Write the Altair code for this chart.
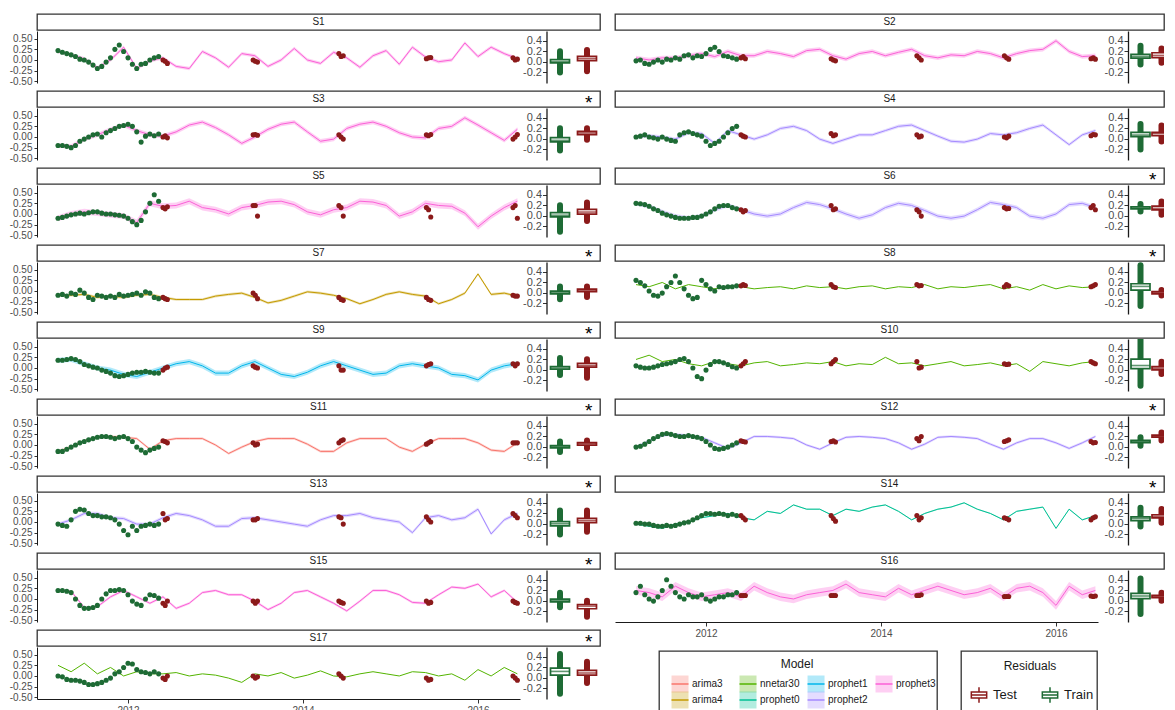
import altair as alt
import pandas as pd

# ---------------- data ----------------
SERIES = [f"S{i}" for i in range(1, 18)]
MODEL = ["prophet3", "prophet3", "prophet3", "prophet2", "prophet3", "prophet2", "arima4",
         "nnetar30", "prophet1", "nnetar30", "arima3", "prophet2", "prophet2", "prophet0",
         "prophet3", "prophet3", "nnetar30"]
STARRED = [False, False, True, False, False, True, True, True, True, False, True, True,
           True, True, True, False, True]
BAND = [0.04, 0.05, 0.05, 0.04, 0.07, 0.05, 0.03, 0.0, 0.06, 0.0, 0.03, 0.03, 0.04, 0.015,
        0.03, 0.1, 0.0]

MODEL_NAMES = ["arima3", "arima4", "nnetar30", "prophet0", "prophet1", "prophet2", "prophet3"]
MODEL_COLORS = ["#F8766D", "#C49A00", "#53B400", "#00C094", "#00B6EB", "#A58AFF", "#FB61D7"]
GROUPS = ["Train", "Test"]
GROUP_COLORS = ["#1E6B35", "#8B1A1A"]

LINE_T = [round(2011.2 + 0.15 * i, 3) for i in range(36)]
TRAIN_T = [round(2011.2 + 0.05 * k, 3) for k in range(24)]
TEST_CLUSTER_T = [2012.40, 2013.43, 2014.41, 2015.41, 2016.40]
TEST_T = [round(c + d, 3) for c in TEST_CLUSTER_T for d in (0.0, 0.025, 0.05)]

LINE_S1 = [0.20, 0.12, 0.03, -0.18, 0.0, 0.30, -0.20, -0.02, 0.05, -0.15, -0.20, 0.20, 0.05, -0.17, 0.15, 0.10, -0.15, 0.0, 0.27, 0.0, -0.08, 0.18, 0.05, -0.17, 0.10, 0.22, -0.10, 0.30, 0.07, -0.04, 0.0, 0.40, 0.08, 0.30, 0.15, 0.03]
TRAIN_S1 = [0.22, 0.18, 0.15, 0.12, 0.08, 0.02, 0.0, -0.05, -0.12, -0.2, -0.15, -0.05, 0.05, 0.25, 0.35, 0.2, 0.05, -0.1, -0.2, -0.1, -0.08, 0.0, 0.05, 0.08]
TEST_S1 = [0.0, -0.03, -0.08, 0.0, -0.03, -0.05, 0.15, 0.08, 0.1, 0.03, 0.05, 0.06, 0.05, 0.0, 0.02]

LINE_S2 = [0.05, 0.0, 0.05, 0.05, 0.1, 0.15, 0.08, 0.2, 0.1, 0.1, 0.2, 0.15, 0.08, 0.22, 0.25, 0.1, 0.02, 0.15, 0.2, 0.1, 0.18, 0.25, 0.1, 0.05, 0.12, 0.1, 0.2, 0.15, 0.05, 0.15, 0.22, 0.25, 0.45, 0.2, 0.08, 0.1]
TRAIN_S2 = [-0.02, 0.0, -0.08, -0.1, -0.05, 0.0, -0.05, 0.02, 0.0, 0.05, 0.02, 0.1, 0.12, 0.05, 0.1, 0.08, 0.15, 0.25, 0.3, 0.2, 0.1, 0.08, 0.05, 0.02]
TEST_S2 = [0.05, 0.08, 0.03, 0.03, 0.0, -0.02, 0.1, 0.05, 0.0, 0.1, 0.05, 0.02, 0.03, 0.05, 0.02]

LINE_S3 = [-0.2, -0.22, -0.05, 0.05, 0.18, 0.28, 0.15, 0.05, 0.02, 0.12, 0.28, 0.35, 0.22, 0.05, -0.15, 0.0, 0.18, 0.3, 0.35, 0.12, -0.1, -0.05, 0.2, 0.3, 0.35, 0.25, 0.1, 0.0, -0.02, 0.2, 0.25, 0.45, 0.28, 0.1, -0.08, 0.18]
TRAIN_S3 = [-0.2, -0.2, -0.22, -0.25, -0.2, -0.1, -0.05, 0.0, 0.05, 0.07, 0.0, 0.1, 0.15, 0.2, 0.25, 0.27, 0.3, 0.25, 0.12, -0.12, 0.02, 0.07, 0.03, 0.07]
TEST_S3 = [0.0, 0.03, -0.02, 0.05, 0.06, 0.04, 0.05, 0.0, -0.05, 0.05, 0.03, 0.06, -0.05, 0.0, 0.06]

LINE_S4 = [0.0, 0.03, 0.0, -0.05, 0.1, 0.08, -0.15, 0.15, 0.05, -0.05, 0.05, 0.2, 0.25, 0.15, -0.05, -0.15, -0.05, 0.05, 0.05, 0.15, 0.25, 0.28, 0.15, 0.02, -0.1, -0.12, -0.05, 0.08, 0.05, 0.1, 0.2, 0.28, 0.05, -0.18, 0.05, 0.15]
TRAIN_S4 = [0.0, 0.02, 0.05, 0.0, -0.02, -0.05, 0.0, -0.05, -0.08, -0.1, 0.05, 0.1, 0.12, 0.08, 0.05, 0.02, -0.1, -0.2, -0.15, -0.1, 0.0, 0.1, 0.2, 0.25]
TEST_S4 = [0.05, 0.02, 0.0, 0.08, 0.03, 0.05, 0.05, 0.0, 0.02, 0.0, -0.02, 0.02, 0.03, 0.06, 0.05]

LINE_S5 = [-0.1, 0.0, 0.05, 0.02, -0.02, -0.05, -0.2, 0.25, 0.18, 0.2, 0.3, 0.15, 0.1, 0.0, 0.15, 0.2, 0.28, 0.3, 0.22, 0.05, -0.02, 0.1, 0.15, 0.3, 0.28, 0.2, -0.05, 0.05, 0.25, 0.2, 0.18, 0.02, -0.3, -0.05, 0.15, 0.3]
TRAIN_S5 = [-0.1, -0.08, -0.05, -0.02, 0.0, 0.02, 0.0, 0.03, 0.05, 0.05, 0.02, 0.0, 0.0, -0.02, -0.03, -0.05, -0.1, -0.18, -0.25, -0.15, 0.05, 0.25, 0.45, 0.3]
TEST_S5 = [0.15, 0.12, 0.17, 0.2, 0.2, -0.05, 0.2, 0.15, -0.05, 0.15, 0.1, -0.07, 0.15, 0.2, -0.1]

LINE_S6 = [0.25, 0.18, 0.05, -0.05, -0.1, -0.05, 0.1, 0.2, 0.1, 0.0, -0.05, 0.0, 0.15, 0.27, 0.22, 0.12, 0.0, -0.1, -0.02, 0.15, 0.25, 0.2, 0.08, -0.05, -0.1, -0.05, 0.1, 0.27, 0.22, 0.15, -0.05, -0.1, 0.0, 0.22, 0.25, 0.15]
TRAIN_S6 = [0.25, 0.24, 0.22, 0.18, 0.12, 0.08, 0.02, -0.02, -0.05, -0.08, -0.1, -0.1, -0.1, -0.08, -0.08, -0.05, 0.0, 0.05, 0.12, 0.18, 0.2, 0.2, 0.15, 0.12]
TEST_S6 = [0.1, 0.05, 0.08, 0.2, 0.1, 0.12, 0.1, 0.05, -0.05, 0.15, 0.12, 0.13, 0.15, 0.2, 0.1]

LINE_S7 = [-0.1, -0.1, -0.08, -0.15, -0.12, -0.15, -0.1, -0.08, -0.15, -0.2, -0.2, -0.2, -0.12, -0.08, -0.05, -0.15, -0.28, -0.22, -0.12, -0.02, -0.05, -0.1, -0.18, -0.3, -0.2, -0.08, -0.02, -0.08, -0.12, -0.3, -0.2, -0.05, 0.4, -0.08, -0.05, -0.12]
TRAIN_S7 = [-0.1, -0.08, -0.12, -0.05, -0.08, 0.02, -0.05, -0.15, -0.2, -0.1, -0.12, -0.15, -0.12, -0.15, -0.08, -0.12, -0.1, -0.08, -0.05, -0.1, -0.02, -0.05, -0.15, -0.18]
TEST_S7 = [-0.15, -0.18, -0.2, -0.05, -0.1, -0.18, -0.15, -0.2, -0.22, -0.15, -0.2, -0.22, -0.1, -0.12, -0.12]

LINE_S8 = [0.15, 0.1, 0.2, 0.05, 0.15, 0.1, 0.05, 0.12, 0.1, 0.05, 0.08, 0.1, 0.05, 0.12, 0.08, 0.1, 0.05, 0.1, 0.12, 0.05, 0.1, 0.08, 0.15, 0.05, 0.1, 0.08, 0.12, 0.15, 0.05, 0.1, 0.02, 0.15, 0.05, 0.12, 0.08, 0.1]
TRAIN_S8 = [0.25, 0.2, 0.12, 0.0, -0.1, -0.12, -0.05, 0.1, 0.2, 0.35, 0.2, 0.05, -0.1, -0.18, -0.15, 0.25, 0.15, 0.05, 0.0, 0.1, 0.08, 0.1, 0.1, 0.12]
TEST_S8 = [0.12, 0.15, 0.13, 0.15, 0.1, 0.08, 0.15, 0.12, 0.13, 0.1, 0.15, 0.12, 0.1, 0.12, 0.15]

LINE_S9 = [0.18, 0.2, 0.1, 0.0, -0.05, -0.15, -0.2, -0.1, 0.0, 0.1, 0.15, 0.05, -0.12, -0.12, 0.05, 0.15, 0.0, -0.15, -0.2, -0.1, 0.05, 0.15, 0.05, -0.05, -0.15, -0.12, 0.05, 0.1, 0.05, 0.0, -0.15, -0.18, -0.28, -0.05, 0.05, 0.1]
TRAIN_S9 = [0.18, 0.18, 0.2, 0.22, 0.2, 0.15, 0.08, 0.05, 0.02, 0.0, -0.05, -0.08, -0.12, -0.18, -0.2, -0.18, -0.15, -0.12, -0.1, -0.1, -0.08, -0.1, -0.12, -0.12]
TEST_S9 = [-0.05, 0.0, 0.02, 0.05, 0.02, 0.0, 0.05, -0.05, -0.05, 0.05, 0.08, 0.1, 0.1, 0.05, 0.1]

LINE_S10 = [0.2, 0.3, 0.15, 0.2, 0.1, 0.05, 0.15, 0.1, 0.05, 0.12, 0.15, 0.05, 0.08, 0.12, 0.1, 0.15, 0.05, 0.1, 0.08, 0.25, 0.1, 0.12, 0.05, 0.1, 0.15, 0.05, 0.08, 0.12, 0.05, 0.1, -0.08, 0.15, 0.1, 0.05, 0.12, 0.15]
TRAIN_S10 = [0.05, 0.02, 0.0, 0.0, 0.02, 0.05, 0.08, 0.1, 0.12, 0.15, 0.2, 0.22, 0.15, 0.0, -0.2, -0.25, -0.05, 0.08, 0.15, 0.15, 0.12, 0.08, 0.03, 0.0]
TEST_S10 = [0.05, 0.1, 0.15, 0.1, 0.15, 0.2, 0.15, 0.0, 0.02, 0.1, 0.08, 0.09, 0.15, 0.12, 0.1]

LINE_S11 = [-0.15, -0.05, 0.1, 0.18, 0.2, 0.18, 0.15, -0.1, 0.1, 0.15, 0.15, 0.15, 0.0, -0.2, -0.05, 0.08, 0.15, 0.15, 0.15, 0.02, -0.15, -0.15, 0.05, 0.15, 0.15, 0.15, -0.05, -0.15, 0.02, 0.15, 0.15, 0.15, 0.05, -0.12, -0.15, 0.05]
TRAIN_S11 = [-0.15, -0.15, -0.1, -0.05, 0.0, 0.05, 0.08, 0.12, 0.15, 0.18, 0.2, 0.2, 0.18, 0.15, 0.18, 0.2, 0.15, 0.08, -0.05, -0.12, -0.18, -0.12, -0.08, -0.05]
TEST_S11 = [0.1, 0.08, 0.05, 0.05, 0.0, 0.02, 0.05, 0.1, 0.12, 0.02, 0.05, 0.08, 0.05, 0.05, 0.05]

LINE_S12 = [-0.05, 0.1, 0.22, 0.25, 0.22, 0.18, 0.05, -0.08, 0.05, 0.2, 0.2, 0.18, 0.15, 0.0, -0.1, 0.05, 0.18, 0.2, 0.18, 0.15, 0.05, -0.1, 0.02, 0.18, 0.2, 0.18, 0.15, 0.02, -0.1, 0.05, 0.15, 0.15, 0.05, -0.08, 0.05, 0.2]
TRAIN_S12 = [-0.05, -0.03, 0.02, 0.08, 0.15, 0.2, 0.25, 0.27, 0.25, 0.22, 0.2, 0.2, 0.22, 0.2, 0.18, 0.15, 0.08, 0.0, -0.08, -0.1, -0.08, -0.05, 0.0, 0.05]
TEST_S12 = [0.1, 0.08, 0.07, 0.08, 0.1, 0.07, 0.15, 0.1, 0.2, 0.08, 0.1, 0.12, 0.08, 0.05, 0.06]

LINE_S13 = [-0.05, 0.05, 0.2, 0.2, 0.1, 0.08, -0.05, -0.05, 0.1, 0.2, 0.15, 0.05, -0.1, -0.1, 0.08, 0.1, 0.05, 0.0, -0.05, -0.1, 0.05, 0.15, 0.15, 0.2, 0.1, 0.05, 0.0, -0.25, 0.1, 0.15, 0.05, 0.1, 0.3, -0.28, 0.05, 0.2]
TRAIN_S13 = [-0.05, -0.08, -0.1, 0.05, 0.25, 0.3, 0.28, 0.2, 0.15, 0.15, 0.12, 0.12, 0.1, 0.05, -0.05, -0.2, -0.3, -0.1, -0.2, -0.1, -0.08, -0.05, -0.08, -0.05]
TEST_S13 = [0.2, 0.05, 0.08, 0.05, 0.05, 0.08, 0.12, 0.1, -0.05, 0.12, 0.05, 0.0, 0.2, 0.15, 0.1]

LINE_S14 = [-0.05, -0.1, -0.15, -0.05, 0.0, 0.1, 0.15, 0.2, 0.1, 0.05, 0.25, 0.2, 0.4, 0.3, 0.3, 0.15, 0.3, 0.25, 0.35, 0.4, 0.25, 0.05, 0.2, 0.3, 0.35, 0.45, 0.3, 0.2, 0.05, 0.25, 0.3, 0.35, -0.15, 0.3, 0.05, 0.15]
TRAIN_S14 = [-0.03, -0.03, -0.05, -0.05, -0.08, -0.1, -0.1, -0.08, -0.1, -0.08, -0.05, -0.02, 0.0, 0.05, 0.1, 0.15, 0.2, 0.2, 0.18, 0.2, 0.18, 0.15, 0.18, 0.15]
TEST_S14 = [0.15, 0.1, 0.05, 0.15, 0.08, 0.02, 0.15, 0.05, 0.1, 0.1, 0.08, 0.05, 0.05, 0.1, 0.12]

LINE_S15 = [0.2, 0.18, -0.2, -0.18, 0.05, 0.2, 0.05, -0.1, 0.05, -0.22, -0.1, 0.15, 0.2, 0.1, 0.1, -0.05, -0.25, -0.1, 0.15, 0.2, 0.05, -0.1, -0.28, -0.05, 0.2, 0.2, 0.1, -0.08, -0.1, 0.1, 0.28, 0.25, 0.35, 0.05, 0.2, -0.08]
TRAIN_S15 = [0.2, 0.2, 0.18, 0.15, 0.0, -0.15, -0.22, -0.22, -0.2, -0.15, 0.0, 0.12, 0.2, 0.2, 0.22, 0.2, 0.1, -0.05, -0.12, -0.15, 0.0, 0.1, 0.08, 0.02]
TEST_S15 = [-0.1, -0.15, -0.05, -0.05, -0.1, -0.05, -0.05, -0.08, -0.1, -0.05, -0.1, -0.08, -0.05, -0.08, -0.1]

LINE_S16 = [0.2, 0.15, 0.05, 0.3, 0.15, 0.05, 0.1, 0.15, 0.05, 0.3, 0.15, 0.05, 0.0, 0.1, 0.15, 0.2, 0.35, 0.15, 0.1, 0.05, 0.25, 0.1, 0.2, 0.3, 0.2, 0.1, 0.15, 0.25, 0.05, 0.25, 0.3, 0.15, -0.15, 0.3, 0.1, 0.2]
TRAIN_S16 = [0.15, 0.3, 0.1, 0.0, -0.05, 0.05, 0.2, 0.45, 0.3, 0.15, 0.05, 0.0, 0.1, 0.05, 0.05, 0.1, 0.0, -0.05, 0.0, 0.05, 0.05, 0.1, 0.1, 0.15]
TEST_S16 = [0.08, 0.08, 0.08, 0.08, 0.08, 0.08, 0.08, 0.08, 0.1, 0.06, 0.06, 0.06, 0.07, 0.06, 0.07]

LINE_S17 = [0.25, 0.1, 0.3, 0.05, 0.2, 0.0, 0.1, 0.05, 0.05, 0.08, 0.0, 0.05, 0.02, -0.05, -0.15, 0.05, 0.0, 0.08, -0.05, 0.02, 0.12, 0.0, -0.02, 0.05, 0.1, 0.05, 0.0, 0.1, 0.08, 0.0, 0.05, -0.1, 0.15, 0.0, 0.2, 0.05]
TRAIN_S17 = [0.0, -0.02, -0.08, -0.1, -0.1, -0.12, -0.15, -0.2, -0.2, -0.18, -0.15, -0.1, -0.05, 0.05, 0.1, 0.2, 0.3, 0.28, 0.15, 0.1, 0.08, 0.05, 0.1, 0.05]
TEST_S17 = [-0.05, -0.08, 0.0, 0.0, -0.05, -0.02, 0.05, 0.0, -0.05, -0.05, -0.1, -0.08, 0.0, -0.05, -0.1]

# residual box statistics (whisker low, q1, median, q3, whisker high)
TRAIN_LO = [-0.2, -0.05, -0.22, -0.2, -0.3, 0.08, -0.12, -0.25, -0.1, -0.3, -0.1, 0.02, -0.2, -0.05, -0.12, -0.25, -0.3]
TRAIN_Q1 = [-0.02, 0.07, -0.06, 0.04, -0.02, 0.13, -0.02, 0.05, 0.01, 0.02, -0.02, 0.08, -0.04, 0.06, -0.02, 0.04, 0.05]
TRAIN_MED = [0.0, 0.1, -0.03, 0.07, 0.01, 0.15, 0.0, 0.12, 0.03, 0.08, 0.0, 0.1, 0.0, 0.1, 0.0, 0.09, 0.12]
TRAIN_Q3 = [0.04, 0.14, 0.02, 0.12, 0.06, 0.17, 0.03, 0.17, 0.06, 0.2, 0.02, 0.12, 0.04, 0.13, 0.03, 0.14, 0.18]
TRAIN_HI = [0.2, 0.3, 0.2, 0.28, 0.2, 0.22, 0.12, 0.52, 0.22, 0.58, 0.1, 0.18, 0.25, 0.3, 0.15, 0.42, 0.45]
TEST_LO = [-0.18, -0.02, -0.02, -0.05, -0.1, 0.02, -0.08, -0.05, -0.15, -0.08, -0.03, 0.12, -0.15, 0.02, -0.3, 0.0, -0.1]
TEST_Q1 = [0.02, 0.08, 0.08, 0.06, 0.03, 0.11, 0.02, -0.02, 0.05, 0.0, 0.03, 0.18, 0.02, 0.11, -0.15, 0.06, 0.05]
TEST_MED = [0.06, 0.12, 0.11, 0.1, 0.07, 0.14, 0.05, 0.0, 0.08, 0.03, 0.06, 0.2, 0.06, 0.14, -0.1, 0.08, 0.09]
TEST_Q3 = [0.1, 0.17, 0.14, 0.12, 0.12, 0.18, 0.07, 0.02, 0.12, 0.06, 0.08, 0.22, 0.1, 0.17, -0.07, 0.1, 0.14]
TEST_HI = [0.22, 0.25, 0.2, 0.25, 0.25, 0.27, 0.12, 0.05, 0.2, 0.15, 0.12, 0.27, 0.25, 0.28, 0.0, 0.15, 0.3]

X_TICKS = [2012, 2014, 2016]
TS_Y_TICKS = [-0.5, -0.25, 0, 0.25, 0.5]
BOX_Y_TICKS = [-0.2, 0, 0.2, 0.4]

# ---------------- layout / style ----------------
FONT = "Liberation Sans"
TS_W = 483
PANEL_H = 52
STRIP_H = 16
GAP_H = 5.5
X_DOMAIN = [2010.96, 2016.48]
TS_Y_DOMAIN = [-0.54, 0.68]
BOX_Y_DOMAIN = [-0.40, 0.58]
# per column: panel width, box-axis position, box band range
LEFT_GEOM = {"w": 563, "axis": 509.5, "band": [509.5, 563.5]}
RIGHT_GEOM = {"w": 549, "axis": 513, "band": [515, 557]}
MINUS_FIX = "replace(datum.label, '\u2212', '-')"
COLOR_OF = dict(zip(MODEL_NAMES, MODEL_COLORS))


def gscale():
    return alt.Scale(domain=GROUPS, range=GROUP_COLORS)


def panel(i, left, bottom, geom):
    s = SERIES[i]
    color = COLOR_OF[MODEL[i]]
    band = BAND[i]
    line_df = pd.DataFrame({"t": LINE_T, "v": globals()[f"LINE_{s}"]})
    line_df["lo"] = line_df["v"] - band
    line_df["hi"] = line_df["v"] + band
    pts_df = pd.DataFrame({
        "t": TRAIN_T + TEST_T,
        "v": globals()[f"TRAIN_{s}"] + globals()[f"TEST_{s}"],
        "grp": ["Train"] * len(TRAIN_T) + ["Test"] * len(TEST_T),
    })

    xscale = alt.Scale(domain=X_DOMAIN, range=[0, TS_W], nice=False, zero=False)
    xaxis = (alt.Axis(values=X_TICKS, format="d", title=None, grid=False, tickSize=4,
                      labelFontSize=10, labelPadding=2)
             if bottom else None)
    yscale = alt.Scale(domain=TS_Y_DOMAIN, nice=False, zero=False)
    yaxis = (alt.Axis(values=TS_Y_TICKS, format=".2f", title=None, grid=False, tickSize=3,
                      labelFontSize=10, labelPadding=2, labelOverlap=False,
                      labelExpr=MINUS_FIX)
             if left else None)
    x = alt.X("t:Q", scale=xscale, axis=xaxis)

    layers = []
    if band > 0:
        layers.append(alt.Chart(line_df).mark_area(color=color, opacity=0.3).encode(
            x=x, y=alt.Y("lo:Q", scale=yscale, axis=yaxis), y2="hi:Q"))
    layers.append(alt.Chart(line_df).mark_line(color=color, strokeWidth=1).encode(
        x=x, y=alt.Y("v:Q", scale=yscale, axis=yaxis)))
    layers.append(alt.Chart(pts_df).mark_circle(size=26, opacity=1).encode(
        x=x, y=alt.Y("v:Q", scale=yscale, axis=yaxis),
        color=alt.Color("grp:N", scale=gscale(), legend=None)))
    ts = alt.layer(*layers)

    box_df = pd.DataFrame({
        "grp": GROUPS,
        "lo": [TRAIN_LO[i], TEST_LO[i]],
        "q1": [TRAIN_Q1[i], TEST_Q1[i]],
        "med": [TRAIN_MED[i], TEST_MED[i]],
        "q3": [TRAIN_Q3[i], TEST_Q3[i]],
        "hi": [TRAIN_HI[i], TEST_HI[i]],
    })
    bx = alt.X("grp:N", scale=alt.Scale(domain=GROUPS, range=geom["band"],
                                        paddingInner=0, paddingOuter=0), axis=None)
    bys = alt.Scale(domain=BOX_Y_DOMAIN, nice=False, zero=False)
    bya = alt.Axis(values=BOX_Y_TICKS, format=".1f", title=None, orient="left",
                   offset=-geom["axis"], grid=False, tickSize=4, labelFontSize=11,
                   labelPadding=1, labelOverlap=False, labelExpr=MINUS_FIX,
                   domainWidth=1.3, domainColor="#1A1A1A")
    gcol = alt.Color("grp:N", scale=gscale(), legend=None)
    whisk = alt.Chart(box_df).mark_rule(strokeWidth=6, strokeCap="round", clip=True).encode(
        x=bx, y=alt.Y("lo:Q", scale=bys, axis=bya), y2="hi:Q", color=gcol)
    body = alt.Chart(box_df).mark_bar(size=19, fill="white", strokeWidth=1.7, clip=True).encode(
        x=bx, y=alt.Y("q1:Q", scale=bys, axis=bya), y2="q3:Q",
        stroke=alt.Stroke("grp:N", scale=gscale(), legend=None))
    med = alt.Chart(box_df).mark_tick(size=19, thickness=1.6, clip=True).encode(
        x=bx, y=alt.Y("med:Q", scale=bys, axis=bya), color=gcol)
    box = alt.layer(whisk, body, med)

    return alt.layer(ts, box).resolve_scale(x="independent", y="independent").properties(
        width=geom["w"], height=PANEL_H)


def strip(i, geom):
    lo = X_DOMAIN[0]
    hi = lo + geom["w"] * (X_DOMAIN[1] - X_DOMAIN[0]) / TS_W
    sx = alt.X("x:Q", scale=alt.Scale(domain=[lo, hi], nice=False, zero=False), axis=None)
    name_df = pd.DataFrame({"x": [(lo + hi) / 2], "label": [SERIES[i]]})
    layers = [alt.Chart(name_df).mark_text(fontSize=10, color="#1A1A1A", baseline="middle").encode(
        x=sx, text="label:N")]
    if STARRED[i]:
        star_df = pd.DataFrame({"x": [hi - 0.13], "label": ["*"]})
        layers.append(alt.Chart(star_df).mark_text(fontSize=19, color="#000000",
                                                   baseline="middle", dy=4).encode(
            x=sx, text="label:N"))
    return alt.layer(*layers).properties(
        width=geom["w"], height=STRIP_H,
        view=alt.ViewBackground(stroke="#333333", strokeWidth=1.3, fill="white"))


def gap():
    return alt.Chart(pd.DataFrame({"v": [0]})).mark_point(opacity=0).encode(
        x=alt.X("v:Q", axis=None), y=alt.Y("v:Q", axis=None)).properties(width=10, height=GAP_H)


def column(idx, left, geom):
    items = []
    for n, i in enumerate(idx):
        if n > 0:
            items.append(gap())
        items.append(strip(i, geom))
        items.append(panel(i, left, n == len(idx) - 1, geom))
    return alt.vconcat(*items, spacing=1, bounds="flush")


def model_legend():
    n = len(MODEL_NAMES)
    df = pd.DataFrame({"model": MODEL_NAMES,
                       "col": [k // 2 for k in range(n)],
                       "row": [k % 2 for k in range(n)]})
    xs = alt.Scale(domain=[-0.309, 3.779], nice=False, zero=False)
    ys = alt.Scale(domain=[-2.0625, 1.8125], nice=False, zero=False, reverse=True)
    x = alt.X("col:Q", scale=xs, axis=None)
    y = alt.Y("row:Q", scale=ys, axis=None)
    cs = alt.Color("model:N", scale=alt.Scale(domain=MODEL_NAMES, range=MODEL_COLORS), legend=None)
    base = alt.Chart(df)
    keys = base.mark_square(size=289, opacity=0.3).encode(x=x, y=y, color=cs)
    lines = base.mark_point(shape="stroke", size=289, strokeWidth=1.5, filled=False,
                            opacity=1).encode(x=x, y=y, color=cs)
    labels = base.mark_text(align="left", dx=12, fontSize=10, color="#1A1A1A").encode(
        x=x, y=y, text="model:N")
    tdf = pd.DataFrame({"col": [1.72], "row": [-1.25], "label": ["Model"]})
    title = alt.Chart(tdf).mark_text(fontSize=12, color="#1A1A1A").encode(x=x, y=y, text="label:N")
    return alt.layer(keys, lines, labels, title).properties(
        width=278, height=62,
        view=alt.ViewBackground(stroke="#333333", strokeWidth=1.3, fill="white"))


ICON = "M-0.75,-0.3H0.75V0.3H-0.75Z M-0.75,0H0.75 M0,-0.3V-0.75 M0,0.3V0.75"


def resid_legend():
    df = pd.DataFrame({"grp": ["Test", "Train"], "col": [0, 1], "row": [0, 0]})
    xs = alt.Scale(domain=[-0.2535, 1.662], nice=False, zero=False)
    ys = alt.Scale(domain=[-1.517, 0.62], nice=False, zero=False, reverse=True)
    x = alt.X("col:Q", scale=xs, axis=None)
    y = alt.Y("row:Q", scale=ys, axis=None)
    base = alt.Chart(df)
    icons = base.mark_point(shape=ICON, size=420, filled=False, strokeWidth=1.5, opacity=1).encode(
        x=x, y=y, color=alt.Color("grp:N", scale=gscale(), legend=None))
    labels = base.mark_text(align="left", dx=14, fontSize=13, color="#1A1A1A").encode(
        x=x, y=y, text="grp:N")
    tdf = pd.DataFrame({"col": [0.718], "row": [-1.0], "label": ["Residuals"]})
    title = alt.Chart(tdf).mark_text(fontSize=12, color="#1A1A1A").encode(x=x, y=y, text="label:N")
    return alt.layer(icons, labels, title).properties(
        width=136, height=62,
        view=alt.ViewBackground(stroke="#333333", strokeWidth=1.3, fill="white"))


spacer = alt.Chart(pd.DataFrame({"v": [0]})).mark_point(opacity=0).encode(
    x=alt.X("v:Q", axis=None), y=alt.Y("v:Q", axis=None)).properties(width=21, height=62)

left_idx = list(range(0, 17, 2))
right_idx = list(range(1, 17, 2))

left_col = column(left_idx, True, LEFT_GEOM)
right_stack = column(right_idx, False, RIGHT_GEOM)
legend_row = alt.hconcat(spacer, model_legend(), resid_legend(), spacing=22).resolve_scale(
    color="independent")
right_col = alt.vconcat(right_stack, legend_row, spacing=12).resolve_scale(color="independent")

chart = alt.hconcat(left_col, right_col, spacing=13).resolve_scale(color="independent").properties(
    padding={"left": 1, "top": 5, "right": 0, "bottom": 0}
).configure(font=FONT).configure_view(strokeWidth=0).configure_axis(
    grid=False, domainColor="#1A1A1A", domainWidth=1, tickColor="#333333",
    labelColor="#4D4D4D", labelFont=FONT
).configure_text(font=FONT)

chart.save("out.html", embed_options={"renderer": "svg", "actions": False})
